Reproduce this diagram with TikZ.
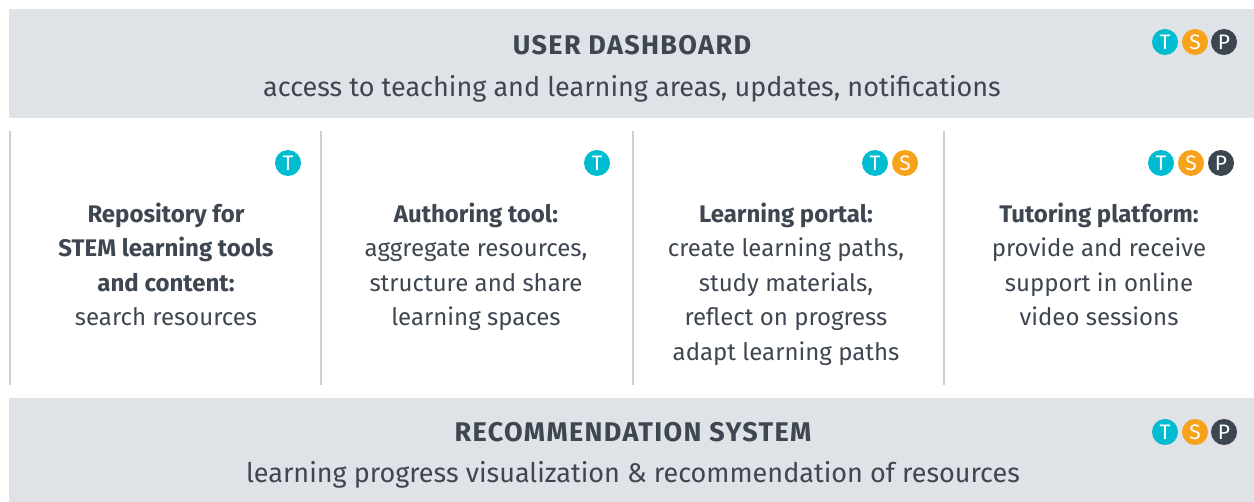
\documentclass[tikz,border=0pt]{standalone}
\usepackage{fontspec}
\setmainfont{Fira Sans}
\definecolor{band}{HTML}{DFE2E6}
\definecolor{ink}{HTML}{3D4651}
\definecolor{sep}{HTML}{CBD0D6}
\definecolor{tcol}{HTML}{00BCD1}
\definecolor{scol}{HTML}{F7A21B}
\definecolor{pcol}{HTML}{3C4550}
\tikzset{
  bandbox/.style={fill=band, draw=none},
  sepline/.style={draw=sep, line width=1.5pt},
  badge/.style={circle, minimum size=26pt, inner sep=0pt, text=white, font=\fontsize{21}{21}\selectfont},
  tb/.style={badge, fill=tcol},
  sb/.style={badge, fill=scol},
  pb/.style={badge, fill=pcol},
  title/.style={text=ink, font=\fontsize{27}{27}\selectfont\bfseries\addfontfeature{LetterSpace=5}, inner sep=0pt},
  subtitle/.style={text=ink, font=\fontsize{27}{27}\selectfont, inner sep=0pt},
  coltext/.style={text=ink, align=center, inner sep=0pt, font=\fontsize{24}{34.6}\selectfont, anchor=north},
}
\begin{document}
\begin{tikzpicture}[x=1pt,y=-1pt]
\useasboundingbox (0,0) rectangle (1254,502);
% bands
\path[bandbox] (9,9) rectangle (1254,118);
\path[bandbox] (9,398) rectangle (1254,502);
% top band
\node[title] (udt) at (632,45) {USER DASHBOARD};
\node[subtitle] (uds) at (632,88.5) {access to teaching and learning areas, updates, notifications};
\node[tb] (ut) at (1165,42) {T};
\node[sb] (us) at (1195,42) {S};
\node[pb] (up) at (1224,42) {P};
% separators
\coordinate (l1a) at (10,131); \coordinate (l1b) at (10,385);
\coordinate (l2a) at (321,131); \coordinate (l2b) at (321,385);
\coordinate (l3a) at (633,131); \coordinate (l3b) at (633,385);
\coordinate (l4a) at (944,131); \coordinate (l4b) at (944,385);
\draw[sepline] (l1a) -- (l1b);
\draw[sepline] (l2a) -- (l2b);
\draw[sepline] (l3a) -- (l3b);
\draw[sepline] (l4a) -- (l4b);
% column badges
\node[tb] (c1t) at (288,163) {T};
\node[tb] (c2t) at (597,163) {T};
\node[tb] (c3t) at (875,163) {T};
\node[sb] (c3s) at (905,163) {S};
\node[tb] (c4t) at (1161,163) {T};
\node[sb] (c4s) at (1191,163) {S};
\node[pb] (c4p) at (1221,163) {P};
% column texts
\node[coltext] (c1) at (166,202.5) {\textbf{Repository for}\\\textbf{STEM learning tools}\\\textbf{and content:}\\search resources};
\node[coltext] (c2) at (476,202.5) {\textbf{Authoring tool:}\\aggregate resources,\\structure and share\\learning spaces};
\node[coltext] (c3) at (786,202.5) {\textbf{Learning portal:}\\create learning paths,\\study materials,\\reflect on progress\\adapt learning paths};
\node[coltext] (c4) at (1099,202.5) {\textbf{Tutoring platform:}\\provide and receive\\support in online\\video sessions};
% bottom band
\node[title] (rst) at (633,432) {RECOMMENDATION SYSTEM};
\node[subtitle] (rss) at (633,475) {learning progress visualization \& recommendation of resources};
\node[tb] (rt) at (1165,432) {T};
\node[sb] (rs) at (1195,432) {S};
\node[pb] (rp) at (1224,432) {P};
\end{tikzpicture}
\end{document}
